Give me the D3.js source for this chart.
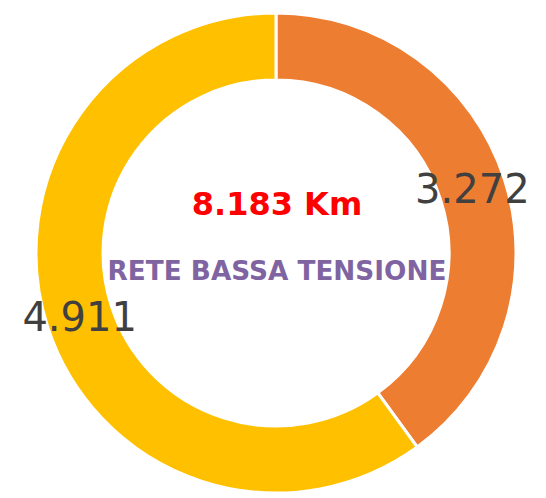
<!DOCTYPE html>
<html>
<head>
<meta charset="utf-8">
<script src="https://cdn.jsdelivr.net/npm/d3@7"></script>
<style>
  body { margin: 0; background: #fff; }
  svg { display: block; }
</style>
</head>
<body>
<svg width="546" height="498"></svg>
<script>
// DATA
const categories = ["Tratto A", "Tratto B"];
const values = [3.272, 4.911];
const colors = ["#ED7D31", "#FFC000"];
const totalLabel = "8.183 Km";
const subtitle = "RETE BASSA TENSIONE";

const width = 546, height = 498;
const cx = 276, cy = 253;
const outerR = 240, innerR = 173;

const svg = d3.select("svg");
const g = svg.append("g").attr("transform", `translate(${cx}, ${cy})`);

const pie = d3.pie().sort(null).value(d => d.value);
const arc = d3.arc().innerRadius(innerR).outerRadius(outerR);

const data = pie(categories.map((c, i) => ({ name: c, value: values[i] })));

// slices
g.selectAll("path.slice")
  .data(data)
  .join("path")
  .attr("class", "slice")
  .attr("d", arc)
  .attr("fill", (d, i) => colors[i])
  .attr("stroke", "#fff")
  .attr("stroke-width", 3);

// value labels at centroid
const fmt = v => v.toFixed(3);
g.selectAll("text.val")
  .data(data)
  .join("text")
  .attr("class", "val")
  .attr("x", d => arc.centroid(d)[0])
  .attr("y", d => arc.centroid(d)[1])
  .attr("text-anchor", "middle")
  .attr("dominant-baseline", "central")
  .attr("font-family", "DejaVu Sans, Verdana, sans-serif")
  .attr("font-size", 40)
  .attr("fill", "#404040")
  .text(d => fmt(d.data.value));

// center texts
g.append("text")
  .attr("x", 1)
  .attr("y", -38)
  .attr("text-anchor", "middle")
  .attr("font-family", "DejaVu Sans, Verdana, sans-serif")
  .attr("font-weight", "bold")
  .attr("font-size", 32)
  .attr("fill", "#FF0000")
  .text(totalLabel);

g.append("text")
  .attr("x", 1)
  .attr("y", 27)
  .attr("text-anchor", "middle")
  .attr("font-family", "DejaVu Sans, Verdana, sans-serif")
  .attr("font-weight", "bold")
  .attr("font-size", 26.3)
  .attr("fill", "#8064A2")
  .text(subtitle);
</script>
</body>
</html>
